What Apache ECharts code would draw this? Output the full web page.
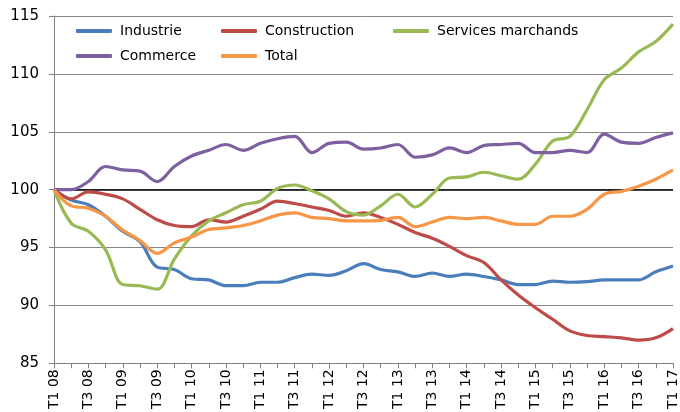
<!DOCTYPE html>
<html>
<head>
<meta charset="utf-8">
<script src="https://cdn.jsdelivr.net/npm/echarts@6/dist/echarts.min.js"></script>
<style>
html, body { margin: 0; padding: 0; background: #fff; }
#chart { width: 680px; height: 412px; }
</style>
</head>
<body>
<div id="chart"></div>
<script>
// trimestres T1 08 .. T1 17
var quarters = [];
for (var y = 8; y <= 17; y++) {
	for (var q = 1; q <= 4; q++) {
		if (y === 17 && q > 1) break;
		quarters.push('T' + q + ' ' + (y < 10 ? '0' + y : y));
	}
}

var industrie = [100, 99.1, 98.7, 97.7, 96.4, 95.5, 93.3, 93.1, 92.3, 92.2, 91.7, 91.7, 92.0, 92.0, 92.4, 92.7, 92.6, 93.0, 93.6, 93.1, 92.9, 92.5, 92.8, 92.5, 92.7, 92.5, 92.2, 91.8, 91.8, 92.1, 92.0, 92.05, 92.2, 92.2, 92.2, 92.9, 93.4];
var construction = [100, 99.2, 99.8, 99.6, 99.2, 98.3, 97.4, 96.9, 96.8, 97.4, 97.2, 97.7, 98.3, 99.0, 98.8, 98.5, 98.2, 97.7, 98.0, 97.6, 97.0, 96.3, 95.8, 95.1, 94.3, 93.7, 92.2, 90.9, 89.8, 88.8, 87.8, 87.4, 87.3, 87.2, 87.0, 87.2, 88.0];
var services = [100, 97.1, 96.4, 94.8, 91.8, 91.7, 91.4, 94.0, 96.0, 97.3, 98.0, 98.7, 99.0, 100.1, 100.4, 99.9, 99.2, 98.1, 97.8, 98.6, 99.6, 98.5, 99.6, 101.0, 101.1, 101.5, 101.2, 100.9, 102.2, 104.2, 104.6, 106.9, 109.5, 110.5, 111.9, 112.8, 114.3];
var commerce = [100, 100.0, 100.7, 102.0, 101.7, 101.6, 100.7, 102.0, 102.9, 103.4, 103.9, 103.4, 104.0, 104.4, 104.6, 103.2, 104.0, 104.1, 103.5, 103.6, 103.9, 102.8, 103.0, 103.6, 103.2, 103.8, 103.9, 104.0, 103.2, 103.2, 103.4, 103.2, 104.8, 104.1, 104.0, 104.5, 104.9];
var total = [100, 98.6, 98.4, 97.7, 96.5, 95.6, 94.5, 95.4, 95.9, 96.55, 96.7, 96.9, 97.3, 97.8, 98.0, 97.6, 97.5, 97.3, 97.3, 97.35, 97.6, 96.8, 97.2, 97.6, 97.5, 97.6, 97.3, 97.0, 97.0, 97.7, 97.7, 98.3, 99.6, 99.85, 100.3, 100.9, 101.7];

var names = ['Industrie', 'Construction', 'Services marchands', 'Commerce', 'Total'];
var colors = ['#4a7ebb', '#be4b48', '#98b954', '#7d60a0', '#f79646'];
var values = [industrie, construction, services, commerce, total];
var legendPos = [[76, 24], [221, 24], [393, 24], [76, 49], [221, 49]];

var font = 'DejaVu Sans';

var chart = echarts.init(document.getElementById('chart'));

var series = [];
var legends = [];
for (var i = 0; i < names.length; i++) {
	var s = {
		name : names[i],
		type : 'line',
		data : values[i],
		smooth : 0.35,
		symbol : 'none',
		lineStyle : { width : 3.2, color : colors[i] },
		itemStyle : { color : colors[i] },
		z : 3
	};
	if (i === 0) {
		// ligne de base 100
		s.markLine = {
			silent : true,
			symbol : 'none',
			label : { show : false },
			lineStyle : { color : '#000', width : 1.5, type : 'solid' },
			data : [ { yAxis : 100 } ],
			z : 1
		};
	}
	series.push(s);
	legends.push({
		data : [names[i]],
		left : legendPos[i][0],
		top : legendPos[i][1],
		icon : 'roundRect',
		itemWidth : 36,
		itemHeight : 4,
		itemGap : 0,
		textStyle : { fontFamily : font, fontSize : 14, color : '#000', padding : [0, 0, 0, 3] },
		padding : 0
	});
}

var option = {
	animation : false,
	backgroundColor : '#fff',
	grid : { left : 54, right : 3, top : 16, bottom : 48 },
	legend : legends,
	xAxis : {
		type : 'category',
		boundaryGap : false,
		data : quarters,
		axisLine : { lineStyle : { color : '#808080', width : 1 } },
		axisTick : { show : true, interval : 0, length : 5, lineStyle : { color : '#808080' } },
		axisLabel : { interval : 1, rotate : 90, margin : 6, fontFamily : font, fontSize : 14, color : '#000' },
		splitLine : { show : false }
	},
	yAxis : {
		type : 'value',
		min : 85,
		max : 115,
		interval : 5,
		axisLine : { show : true, lineStyle : { color : '#808080', width : 1 } },
		axisTick : { show : true, length : 5, lineStyle : { color : '#808080' } },
		axisLabel : { margin : 15, fontFamily : font, fontSize : 15, color : '#000' },
		splitLine : { show : true, lineStyle : { color : '#868686', width : 1 } }
	},
	series : series
};
chart.setOption(option);
</script>
</body>
</html>
